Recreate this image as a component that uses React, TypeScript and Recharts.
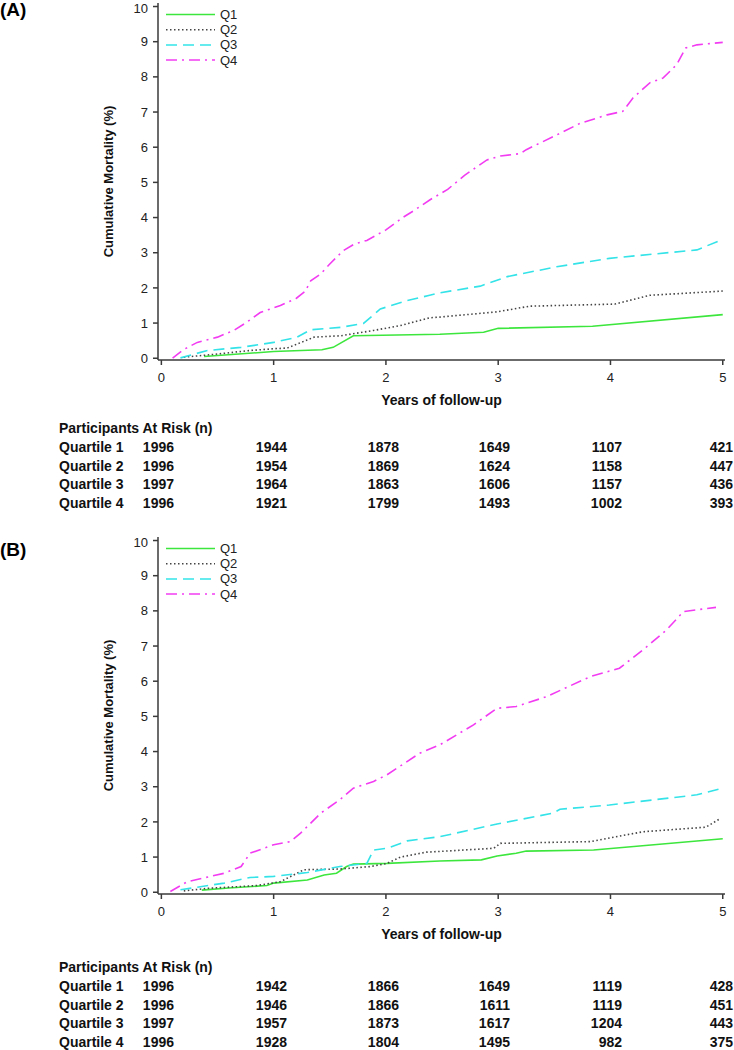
import { LineChart, Line, XAxis, YAxis, Label } from "recharts";

const FONT = "Arial, 'Liberation Sans', sans-serif";

const YEAR_TICKS = [0, 1, 2, 3, 4, 5];
const PCT_TICKS = [0, 1, 2, 3, 4, 5, 6, 7, 8, 9, 10];
const QUARTILES = ["Q1", "Q2", "Q3", "Q4"];
const ROW_LABELS = ["Quartile 1", "Quartile 2", "Quartile 3", "Quartile 4"];

// panel (A) curves: [year, cumulative mortality %]
const q1A = [
  [0.38, 0.05], [1.0, 0.19], [1.43, 0.24], [1.53, 0.31], [1.71, 0.64], [2.48, 0.68],
  [2.87, 0.74], [3.0, 0.85], [3.84, 0.91], [5.0, 1.24],
];
const q2A = [
  [0.2, 0.03], [0.5, 0.12], [0.79, 0.22], [1.0, 0.27], [1.12, 0.29], [1.36, 0.6],
  [1.6, 0.64], [1.89, 0.79], [2.13, 0.93], [2.39, 1.15], [2.48, 1.17], [2.99, 1.32],
  [3.28, 1.48], [4.04, 1.54], [4.35, 1.79], [5.0, 1.91],
];
const q3A = [
  [0.17, 0.01], [0.41, 0.22], [0.71, 0.31], [1.0, 0.45], [1.21, 0.6], [1.33, 0.81],
  [1.6, 0.88], [1.8, 0.99], [1.95, 1.4], [2.19, 1.64], [2.39, 1.79], [2.48, 1.86],
  [2.84, 2.05], [3.08, 2.32], [3.52, 2.6], [3.99, 2.84], [4.77, 3.08], [4.97, 3.34],
];
const q4A = [
  [0.1, 0], [0.2, 0.25], [0.32, 0.45], [0.5, 0.6], [0.65, 0.8], [0.75, 1.0], [0.88, 1.3],
  [1.06, 1.5], [1.2, 1.7], [1.28, 1.9], [1.33, 2.2], [1.42, 2.4], [1.5, 2.68], [1.62, 3.06],
  [1.72, 3.25], [1.83, 3.35], [2.0, 3.65], [2.15, 4.0], [2.25, 4.2], [2.39, 4.5],
  [2.55, 4.8], [2.7, 5.2], [2.9, 5.64], [3.02, 5.75], [3.2, 5.82], [3.25, 5.93],
  [3.49, 6.3], [3.73, 6.68], [3.97, 6.92], [4.11, 7.02], [4.2, 7.4], [4.35, 7.83],
  [4.47, 7.97], [4.59, 8.35], [4.67, 8.82], [4.77, 8.91], [5.0, 8.98],
];

// panel (B) curves
const q1B = [
  [0.36, 0.06], [0.6, 0.12], [0.94, 0.19], [1.0, 0.26], [1.3, 0.35], [1.45, 0.49],
  [1.56, 0.54], [1.65, 0.73], [1.71, 0.8], [2.01, 0.82], [2.48, 0.89], [2.85, 0.92],
  [2.99, 1.03], [3.16, 1.11], [3.25, 1.17], [3.85, 1.2], [5.0, 1.52],
];
const q2B = [
  [0.2, 0.04], [0.41, 0.11], [0.85, 0.19], [1.06, 0.3], [1.27, 0.64], [1.59, 0.66],
  [1.86, 0.73], [2.01, 0.82], [2.13, 1.0], [2.36, 1.14], [2.48, 1.16], [2.96, 1.25],
  [3.02, 1.39], [3.82, 1.44], [4.29, 1.72], [4.85, 1.85], [4.97, 2.08],
];
const q3B = [
  [0.17, 0.07], [0.56, 0.26], [0.79, 0.42], [1.0, 0.45], [1.3, 0.56], [1.59, 0.73],
  [1.83, 0.82], [1.89, 1.2], [2.01, 1.25], [2.19, 1.46], [2.48, 1.58], [2.99, 1.94],
  [3.49, 2.25], [3.55, 2.36], [3.99, 2.48], [4.77, 2.77], [5.0, 2.96],
];
const q4B = [
  [0.08, 0.02], [0.23, 0.3], [0.56, 0.54], [0.71, 0.73], [0.79, 1.11], [1.0, 1.35],
  [1.15, 1.44], [1.24, 1.68], [1.42, 2.25], [1.59, 2.63], [1.71, 2.96], [1.89, 3.15],
  [2.01, 3.34], [2.1, 3.53], [2.3, 3.95], [2.48, 4.19], [2.78, 4.76], [2.99, 5.23],
  [3.16, 5.28], [3.43, 5.56], [3.82, 6.13], [4.08, 6.37], [4.29, 6.89], [4.5, 7.46],
  [4.65, 7.98], [4.94, 8.1],
];

// participants at risk, one row per quartile, columns at years 0..5
const atRiskA = [
  [1996, 1944, 1878, 1649, 1107, 421],
  [1996, 1954, 1869, 1624, 1158, 447],
  [1997, 1964, 1863, 1606, 1157, 436],
  [1996, 1921, 1799, 1493, 1002, 393],
];
const atRiskB = [
  [1996, 1942, 1866, 1649, 1119, 428],
  [1996, 1946, 1866, 1611, 1119, 451],
  [1997, 1957, 1873, 1617, 1204, 443],
  [1996, 1928, 1804, 1495, 982, 375],
];

const STYLES = [
  { color: "#3de63d", dash: undefined },
  { color: "#444444", dash: "1.5 2.5" },
  { color: "#33e3e8", dash: "11 6" },
  { color: "#f23cf2", dash: "11 5 2 5" },
];

const AXIS = "#3a3a3a";
const COL_RIGHT = [174, 287, 399, 510, 622, 733];

const toPoints = (pts: number[][]) => pts.map(([x, y]) => ({ x, y }));

// legend drawn over the plot, top-left, like the original
const KeyBox = () => (
  <svg
    width={80}
    height={64}
    style={{ position: "absolute", left: 164, top: 6, overflow: "visible" }}
  >
    {QUARTILES.map((q, i) => (
      <g key={q}>
        <line
          x1={2}
          x2={51}
          y1={8.5 + i * 15.2}
          y2={8.5 + i * 15.2}
          stroke={STYLES[i].color}
          strokeWidth={1.5}
          strokeDasharray={STYLES[i].dash}
        />
        <text x={56} y={13 + i * 15.2} fontSize={13} fontFamily={FONT} fill="#222">
          {q}
        </text>
      </g>
    ))}
  </svg>
);

const Panel = ({ top, series }: { top: number; series: number[][][] }) => (
  <div style={{ position: "absolute", left: 0, top, width: 734, height: 420 }}>
    <LineChart width={734} height={420} margin={{ top: 3, right: 9, bottom: 10, left: 118 }}>
      <XAxis
        dataKey="x"
        type="number"
        domain={[-0.03, 5.02]}
        ticks={YEAR_TICKS}
        allowDataOverflow
        height={50}
        tickSize={5}
        tickMargin={8}
        stroke={AXIS}
        strokeWidth={1.5}
        tick={{ fontSize: 13, fill: "#222", fontFamily: FONT }}
      >
        <Label
          value="Years of follow-up"
          position="insideBottom"
          offset={5}
          style={{ fontSize: 14, fontWeight: "bold", fill: "#111", fontFamily: FONT }}
        />
      </XAxis>
      <YAxis
        dataKey="y"
        type="number"
        domain={[-0.05, 10.1]}
        ticks={PCT_TICKS}
        allowDataOverflow
        width={40}
        tickSize={5}
        tickMargin={5}
        stroke={AXIS}
        strokeWidth={1.5}
        tick={{ fontSize: 13, fill: "#222", fontFamily: FONT }}
      >
        <Label
          content={({ viewBox }: any) => {
            const cx = viewBox.x - 5;
            const cy = viewBox.y + viewBox.height / 2;
            return (
              <text
                x={cx}
                y={cy}
                transform={`rotate(-90 ${cx} ${cy})`}
                textAnchor="middle"
                fontSize={13}
                fontWeight="bold"
                fontFamily={FONT}
                fill="#111"
              >
                Cumulative Mortality (%)
              </text>
            );
          }}
        />
      </YAxis>
      {series.map((pts, i) => (
        <Line
          key={QUARTILES[i]}
          name={QUARTILES[i]}
          data={toPoints(pts)}
          dataKey="y"
          type="linear"
          stroke={STYLES[i].color}
          strokeWidth={1.6}
          strokeDasharray={STYLES[i].dash}
          dot={false}
          activeDot={false}
          isAnimationActive={false}
        />
      ))}
    </LineChart>
    <KeyBox />
  </div>
);

const RiskTable = ({ top, rows }: { top: number; rows: number[][] }) => (
  <svg
    width={734}
    height={92}
    style={{ position: "absolute", left: 0, top, overflow: "visible" }}
    fontFamily={FONT}
    fontSize={14}
    fontWeight="bold"
    fill="#111"
  >
    <text x={59} y={14}>Participants At Risk (n)</text>
    {rows.map((row, r) => (
      <g key={r}>
        <text x={59} y={33 + r * 18.6}>{ROW_LABELS[r]}</text>
        {row.map((n, c) => (
          <text key={c} x={COL_RIGHT[c]} y={33 + r * 18.6} textAnchor="end">
            {n}
          </text>
        ))}
      </g>
    ))}
  </svg>
);

export default function App() {
  return (
    <div
      style={{
        position: "absolute",
        left: 0,
        top: 0,
        width: 734,
        height: 1050,
        overflow: "hidden",
        background: "#fff",
        fontFamily: FONT,
      }}
    >
      <div style={{ position: "absolute", left: 0, top: -1, fontSize: 19, fontWeight: "bold", lineHeight: "22px" }}>
        (A)
      </div>
      <Panel top={0} series={[q1A, q2A, q3A, q4A]} />
      <RiskTable top={419} rows={atRiskA} />

      <div style={{ position: "absolute", left: 0, top: 539, fontSize: 19, fontWeight: "bold", lineHeight: "22px" }}>
        (B)
      </div>
      <Panel top={534} series={[q1B, q2B, q3B, q4B]} />
      <RiskTable top={958} rows={atRiskB} />
    </div>
  );
}
